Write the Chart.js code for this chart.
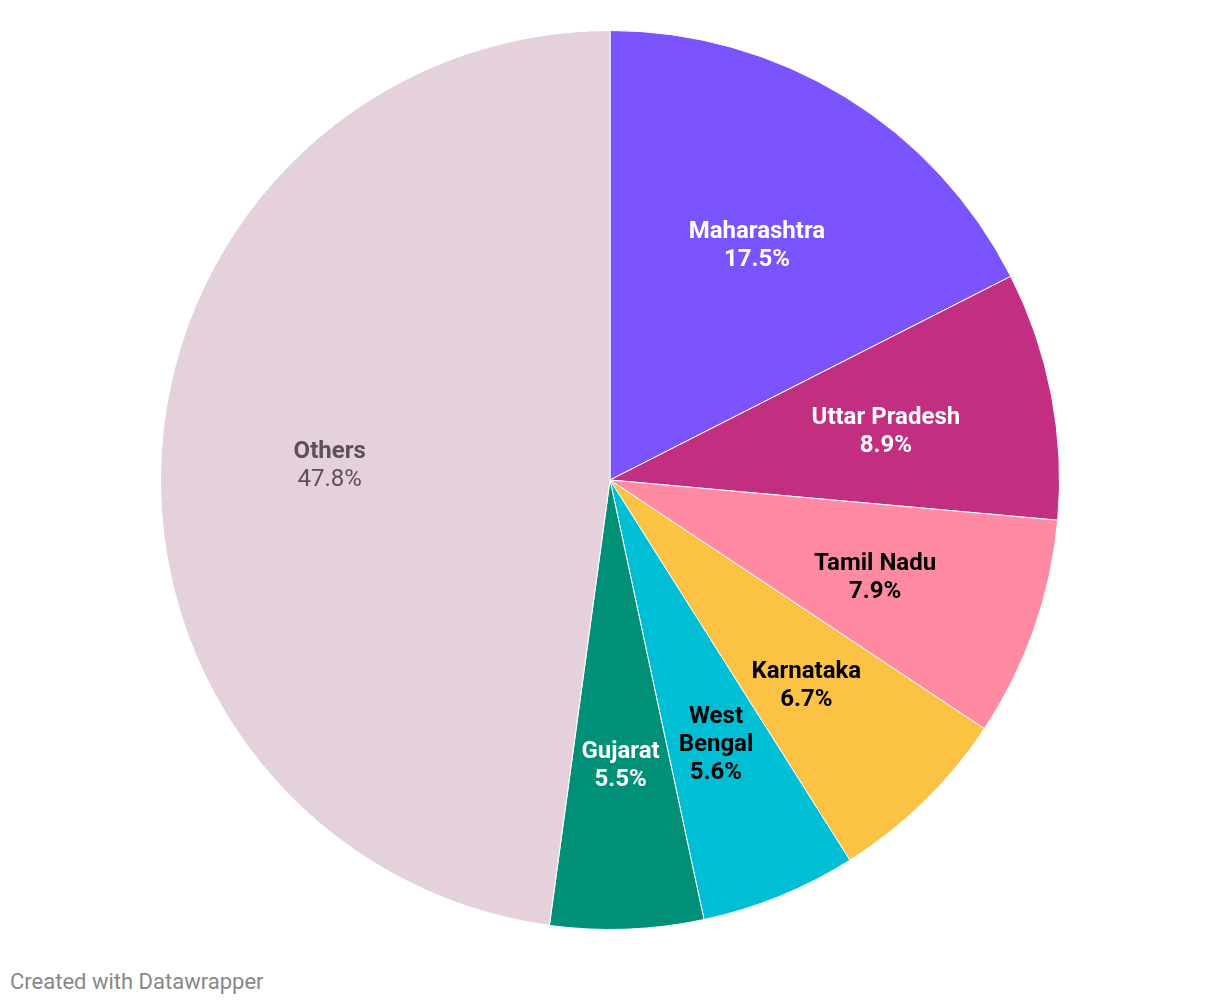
<!DOCTYPE html>
<html lang="en">
  <head>
    <meta charset="UTF-8" />
    <title>States share</title>
    <style>
      html, body {
        margin: 0;
        padding: 0;
        background: #fff;
        font-family: Roboto, sans-serif;
      }
      .wrap {
        position: relative;
        width: 1220px;
        height: 1006px;
      }
      #pie {
        position: absolute;
        left: 0;
        top: 0;
      }
      .credit {
        position: absolute;
        left: 10px;
        top: 969px;
        font-size: 22px;
        color: #888;
      }
    </style>
  </head>
  <body>
    <div class="wrap">
      <canvas id="pie" width="1220" height="960"></canvas>
      <div class="credit">Created with Datawrapper</div>
    </div>

    <script src="https://cdn.jsdelivr.net/npm/chart.js"></script>

    <script>
      const states = ['Maharashtra', 'Uttar Pradesh', 'Tamil Nadu', 'Karnataka', 'West Bengal', 'Gujarat', 'Others'];
      const shares = [17.5, 8.9, 7.9, 6.7, 5.6, 5.5, 47.8];
      const sliceColors = ['#7b54ff', '#c22e80', '#ff8aa2', '#fbc244', '#00bed3', '#009077', '#e5d1db'];
      const labelColors = ['#ffffff', '#ffffff', '#000000', '#000000', '#000000', '#ffffff', '#5b5157'];

      // draws the name + percent inside each slice
      const sliceLabels = {
        id: 'sliceLabels',
        afterDatasetsDraw(chart) {
          const ctx = chart.ctx;
          const arcs = chart.getDatasetMeta(0).data;
          ctx.save();
          ctx.textAlign = 'center';
          ctx.textBaseline = 'middle';
          arcs.forEach((arc, i) => {
            const p = arc.getProps(['x', 'y', 'startAngle', 'endAngle', 'outerRadius'], true);
            const mid = (p.startAngle + p.endAngle) / 2;
            const r = p.outerRadius * 0.625;
            const x = p.x + Math.cos(mid) * r;
            const y = p.y + Math.sin(mid) * r + 5;
            const name = states[i] === 'West Bengal' ? ['West', 'Bengal'] : [states[i]];
            const lines = name.map((t) => ({ t, bold: true }));
            lines.push({ t: shares[i].toFixed(1) + '%', bold: states[i] !== 'Others' });
            const lh = 28;
            const top = y - ((lines.length - 1) * lh) / 2;
            ctx.fillStyle = labelColors[i];
            lines.forEach((l, k) => {
              ctx.font = (l.bold ? 'bold ' : '') + '24px Roboto';
              ctx.fillText(l.t, x, top + k * lh);
            });
          });
          ctx.restore();
        },
      };

      new Chart(document.getElementById('pie'), {
        type: 'pie',
        data: {
          labels: states,
          datasets: [
            {
              data: shares,
              backgroundColor: sliceColors,
              borderColor: '#ffffff',
              borderWidth: 1,
            },
          ],
        },
        options: {
          responsive: false,
          animation: false,
          layout: { padding: { top: 30, bottom: 30 } },
          plugins: {
            legend: { display: false },
            tooltip: { enabled: false },
          },
        },
        plugins: [sliceLabels],
      });
    </script>
  </body>
</html>
